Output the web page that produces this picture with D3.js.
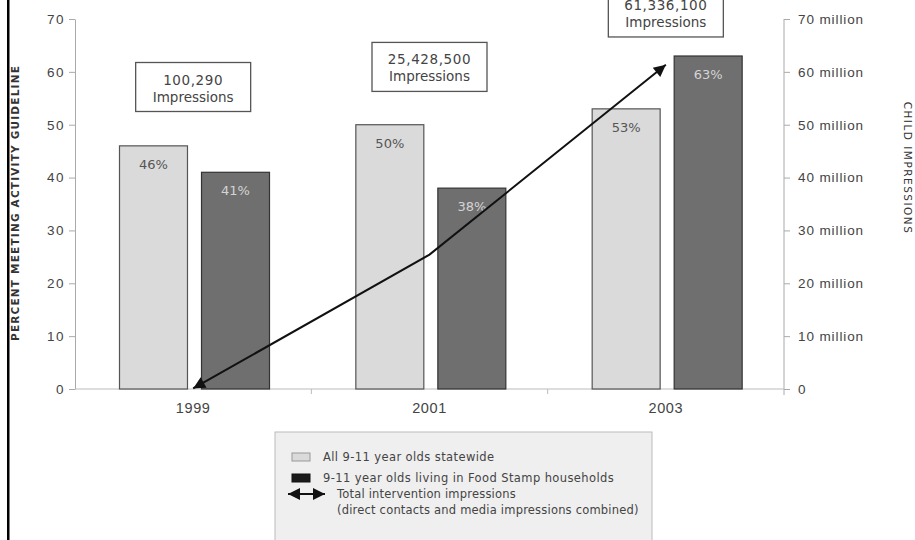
<!DOCTYPE html>
<html>
<head>
<meta charset="utf-8">
<script src="https://cdn.jsdelivr.net/npm/d3@7"></script>
<style>
	body { margin: 0; background: #fff; }
	svg { font-family: "DejaVu Sans", sans-serif; }
</style>
</head>
<body>
<svg width="915" height="540"></svg>
<script>
var years = ["1999", "2001", "2003"];
var seriesNames = ["All 9-11 year olds statewide", "9-11 year olds living in Food Stamp households"];
var statewide = [46, 50, 53];
var foodStamp = [41, 38, 63];
var impressions = [100290, 25428500, 61336100];
var impressionLabels = ["100,290", "25,428,500", "61,336,100"];
var percentTicks = [0, 10, 20, 30, 40, 50, 60, 70];
var impressionTicks = [0, 10e6, 20e6, 30e6, 40e6, 50e6, 60e6, 70e6];

var svg = d3.select("svg"),
	plotLeft = 75,
	plotRight = 784,
	plotTop = 19,
	base = 389;

// callout box bottoms, in percent units
var calloutLevel = { "1999": 52.5, "2001": 56.3, "2003": 66.6 };

var x0 = d3.scaleBand().domain(years).range([plotLeft, plotRight]);
var x1 = d3.scaleBand().domain([0, 1]).range([44.5, 194.5]).paddingInner(0.171);
var y = d3.scaleLinear().domain([0, 70]).range([base, plotTop]);
var yR = d3.scaleLinear().domain([0, 70e6]).range([base, plotTop]);

var defs = svg.append("defs");
defs.append("marker")
	.attr("id", "head")
	.attr("viewBox", "0 0 10 10")
	.attr("refX", 10)
	.attr("refY", 5)
	.attr("markerUnits", "userSpaceOnUse")
	.attr("markerWidth", 17)
	.attr("markerHeight", 12)
	.attr("orient", "auto-start-reverse")
	.append("path")
	.attr("d", "M0,0 L10,5 L0,10 z")
	.attr("fill", "#111");

// page border on the left
svg.append("rect")
	.attr("x", 7)
	.attr("y", 0)
	.attr("width", 2.5)
	.attr("height", 540)
	.attr("fill", "#000");

// left axis
var gl = svg.append("g")
	.attr("transform", "translate(" + plotLeft + ",0)")
	.call(d3.axisLeft(y).tickValues(percentTicks).tickSize(6).tickSizeOuter(0).tickPadding(4));
gl.select(".domain").attr("stroke", "#aaa");
gl.selectAll(".tick line").attr("stroke", "#aaa");
gl.selectAll(".tick text").attr("fill", "#444")
	.style("font-size", "13.5px")
	.style("letter-spacing", "1.5px");

// right axis
var gr = svg.append("g")
	.attr("transform", "translate(" + plotRight + ",0)")
	.call(d3.axisRight(yR).tickValues(impressionTicks).tickSize(6).tickSizeOuter(0).tickPadding(8)
		.tickFormat(function(d) { return d === 0 ? "0" : (d / 1e6) + " million"; }));
gr.select(".domain").remove();
gr.append("line")
	.attr("y1", plotTop)
	.attr("y2", base + 6)
	.attr("stroke", "#aaa");
gr.selectAll(".tick line").attr("stroke", "#aaa");
gr.selectAll(".tick text").attr("fill", "#444")
	.style("font-size", "13.5px")
	.style("letter-spacing", "0.9px");

// baseline and category ticks
svg.append("line")
	.attr("x1", plotLeft)
	.attr("x2", plotRight)
	.attr("y1", base)
	.attr("y2", base)
	.attr("stroke", "#bbb");
svg.selectAll(".cattick")
	.data(years.slice(1))
	.enter().append("line")
	.attr("x1", function(d) { return x0(d); })
	.attr("x2", function(d) { return x0(d); })
	.attr("y1", base)
	.attr("y2", base + 5)
	.attr("stroke", "#bbb");

var gx = svg.append("g")
	.attr("transform", "translate(0," + base + ")")
	.call(d3.axisBottom(x0).tickSize(0).tickPadding(14));
gx.select(".domain").remove();
gx.selectAll(".tick text").attr("fill", "#444")
	.style("font-size", "14.5px")
	.style("letter-spacing", "0.6px");

// bars
var barData = [];
years.forEach(function(yr, i) {
	barData.push({ year: yr, s: 0, val: statewide[i] });
	barData.push({ year: yr, s: 1, val: foodStamp[i] });
});

svg.selectAll(".bar")
	.data(barData)
	.enter().append("rect")
	.attr("class", "bar")
	.attr("x", function(d) { return x0(d.year) + x1(d.s); })
	.attr("y", function(d) { return y(d.val); })
	.attr("width", x1.bandwidth())
	.attr("height", function(d) { return base - y(d.val); })
	.attr("fill", function(d) { return d.s ? "#6f6f6f" : "#dadada"; })
	.attr("stroke", function(d) { return d.s ? "#333" : "#555"; })
	.attr("stroke-width", 1.2);

svg.selectAll(".barlabel")
	.data(barData)
	.enter().append("text")
	.attr("x", function(d) { return x0(d.year) + x1(d.s) + x1.bandwidth() / 2; })
	.attr("y", function(d) { return y(d.val) + 23; })
	.attr("text-anchor", "middle")
	.attr("fill", function(d) { return d.s ? "#d4d4d4" : "#555"; })
	.style("font-size", "13px")
	.text(function(d) { return d.val + "%"; });

// impressions line
var line = d3.line()
	.x(function(d, i) { return x0(years[i]) + x0.bandwidth() / 2; })
	.y(function(d) { return yR(d); });

svg.append("path")
	.datum(impressions)
	.attr("d", line)
	.attr("fill", "none")
	.attr("stroke", "#111")
	.attr("stroke-width", 2)
	.attr("marker-start", "url(#head)")
	.attr("marker-end", "url(#head)");

// callout boxes
var boxW = 115, boxH = 49;
var callouts = svg.selectAll(".callout")
	.data(years)
	.enter().append("g")
	.attr("class", "callout")
	.attr("transform", function(d) {
		return "translate(" + (x0(d) + x0.bandwidth() / 2) + "," + (y(calloutLevel[d]) - boxH) + ")";
	});
callouts.append("rect")
	.attr("x", -boxW / 2)
	.attr("width", boxW)
	.attr("height", boxH)
	.attr("fill", "#fff")
	.attr("stroke", "#555")
	.attr("stroke-width", 1.3);
callouts.append("text")
	.attr("y", 22)
	.attr("text-anchor", "middle")
	.attr("fill", "#444")
	.style("font-size", "13.5px")
	.style("letter-spacing", "0.6px")
	.text(function(d, i) { return impressionLabels[i]; });
callouts.append("text")
	.attr("y", 39)
	.attr("text-anchor", "middle")
	.attr("fill", "#444")
	.style("font-size", "13.5px")
	.text("Impressions");

// axis titles
svg.append("text")
	.attr("transform", "translate(19,203) rotate(-90)")
	.attr("text-anchor", "middle")
	.attr("fill", "#333")
	.style("font-size", "10.5px")
	.style("font-weight", "bold")
	.style("letter-spacing", "1.2px")
	.text("PERCENT MEETING ACTIVITY GUIDELINE");

svg.append("text")
	.attr("transform", "translate(904,168) rotate(90)")
	.attr("text-anchor", "middle")
	.attr("fill", "#333")
	.style("font-size", "10.5px")
	.style("letter-spacing", "1.5px")
	.text("CHILD IMPRESSIONS");

// legend
var lg = svg.append("g").attr("transform", "translate(275,432)");
lg.append("rect")
	.attr("width", 377)
	.attr("height", 130)
	.attr("fill", "#efefef")
	.attr("stroke", "#bbb");

lg.selectAll(".sw")
	.data(seriesNames)
	.enter().append("rect")
	.attr("x", 17)
	.attr("y", function(d, i) { return 21 + i * 21; })
	.attr("width", 18)
	.attr("height", 8)
	.attr("fill", function(d, i) { return i ? "#1a1a1a" : "#dadada"; })
	.attr("stroke", function(d, i) { return i ? "#111" : "#999"; });

lg.selectAll(".lt")
	.data(seriesNames)
	.enter().append("text")
	.attr("x", 48)
	.attr("y", function(d, i) { return 29 + i * 21; })
	.attr("fill", "#444")
	.style("font-size", "11.5px")
	.style("letter-spacing", "0.4px")
	.text(function(d) { return d; });

lg.append("line")
	.attr("x1", 13)
	.attr("x2", 50)
	.attr("y1", 62)
	.attr("y2", 62)
	.attr("stroke", "#111")
	.attr("stroke-width", 2)
	.attr("marker-start", "url(#head)")
	.attr("marker-end", "url(#head)");

lg.append("text")
	.attr("x", 62)
	.attr("y", 66)
	.attr("fill", "#444")
	.style("font-size", "11.5px")
	.style("letter-spacing", "0.2px")
	.text("Total intervention impressions");
lg.append("text")
	.attr("x", 62)
	.attr("y", 82)
	.attr("fill", "#444")
	.style("font-size", "11.5px")
	.style("letter-spacing", "0.2px")
	.text("(direct contacts and media impressions combined)");
</script>
</body>
</html>
